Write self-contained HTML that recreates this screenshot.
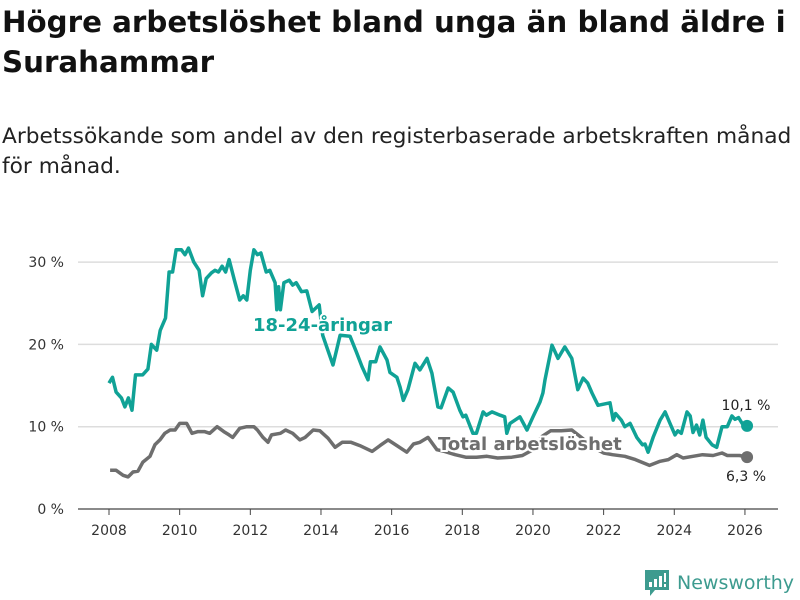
<!DOCTYPE html>
<html><head><meta charset="utf-8">
<style>
body{margin:0;background:#fff;width:800px;height:600px;overflow:hidden;font-family:"DejaVu Sans","Liberation Sans",sans-serif;}
h1{position:absolute;left:2px;top:2px;margin:0;font-size:29.3px;line-height:40px;font-weight:bold;color:#111;width:798px;}
p{position:absolute;left:2px;top:122px;margin:0;font-size:21.7px;line-height:30px;color:#222;white-space:nowrap;}
svg{position:absolute;left:0;top:0;}
</style></head><body>
<h1>Högre arbetslöshet bland unga än bland äldre i Surahammar</h1>
<p>Arbetssökande som andel av den registerbaserade arbetskraften månad<br>för månad.</p>
<svg id="chart" width="800" height="600"></svg>
<script>
const youthDates=[2008.0,2008.1,2008.2,2008.35,2008.45,2008.55,2008.65,2008.75,2008.95,2009.1,2009.2,2009.35,2009.45,2009.6,2009.7,2009.8,2009.9,2010.05,2010.15,2010.25,2010.4,2010.55,2010.65,2010.75,2010.9,2011.0,2011.1,2011.2,2011.3,2011.4,2011.55,2011.7,2011.8,2011.9,2012.0,2012.1,2012.2,2012.3,2012.45,2012.55,2012.7,2012.75,2012.8,2012.85,2012.95,2013.1,2013.2,2013.3,2013.45,2013.6,2013.75,2013.95,2014.05,2014.34,2014.54,2014.82,2015.0,2015.16,2015.33,2015.4,2015.55,2015.67,2015.87,2015.95,2016.15,2016.24,2016.33,2016.46,2016.66,2016.8,2017.0,2017.14,2017.31,2017.4,2017.6,2017.74,2017.93,2018.02,2018.1,2018.3,2018.4,2018.59,2018.68,2018.84,2019.07,2019.2,2019.26,2019.35,2019.63,2019.83,2020.0,2020.2,2020.28,2020.34,2020.54,2020.71,2020.9,2021.1,2021.27,2021.42,2021.55,2021.67,2021.84,2022.18,2022.27,2022.34,2022.5,2022.6,2022.75,2022.94,2023.1,2023.17,2023.26,2023.4,2023.6,2023.74,2023.88,2024.02,2024.1,2024.2,2024.36,2024.45,2024.53,2024.63,2024.72,2024.81,2024.9,2025.07,2025.2,2025.35,2025.5,2025.63,2025.72,2025.82,2025.92,2026.06];
const youthValues=[15.3,16,14.2,13.5,12.4,13.5,12,16.3,16.3,17,20,19.3,21.7,23.2,28.8,28.8,31.5,31.5,30.9,31.7,30,29,25.9,28,28.7,29,28.8,29.5,28.8,30.3,27.8,25.4,25.9,25.4,29,31.5,30.9,31.1,28.8,29,27.5,24.2,27,24.2,27.5,27.8,27.2,27.5,26.4,26.5,24,24.8,21.1,17.5,21.1,21,19.1,17.3,15.7,17.9,17.9,19.7,18.1,16.6,16,14.8,13.2,14.5,17.7,16.9,18.3,16.5,12.4,12.3,14.7,14.2,12,11.2,11.4,9.2,9.2,11.8,11.4,11.8,11.4,11.2,9.2,10.4,11.2,9.6,11.2,13,14.1,15.7,19.9,18.3,19.7,18.3,14.5,15.9,15.3,14.1,12.6,12.9,10.8,11.6,10.8,10,10.4,8.7,7.8,7.9,6.9,8.7,10.8,11.8,10.4,9,9.5,9.2,11.8,11.3,9.3,10.2,9,10.8,8.7,7.8,7.5,10,10,11.3,10.9,11.1,10.4,10.1];
const totalDates=[2008.03,2008.2,2008.4,2008.54,2008.68,2008.82,2008.96,2009.16,2009.3,2009.44,2009.58,2009.73,2009.87,2010.0,2010.2,2010.35,2010.52,2010.7,2010.85,2011.06,2011.25,2011.4,2011.5,2011.7,2011.9,2012.1,2012.2,2012.36,2012.5,2012.6,2012.85,2013.0,2013.2,2013.4,2013.55,2013.78,2013.97,2014.2,2014.4,2014.6,2014.85,2015.1,2015.45,2015.67,2015.9,2016.15,2016.43,2016.62,2016.8,2017.03,2017.28,2017.5,2017.8,2018.1,2018.4,2018.7,2019.0,2019.4,2019.7,2020.0,2020.25,2020.5,2020.8,2021.1,2021.4,2021.7,2022.0,2022.25,2022.6,2022.9,2023.3,2023.6,2023.83,2024.07,2024.25,2024.53,2024.8,2025.1,2025.35,2025.5,2025.85,2026.06];
const totalValues=[4.7,4.7,4.1,3.9,4.5,4.6,5.7,6.4,7.8,8.4,9.2,9.6,9.6,10.4,10.4,9.2,9.4,9.4,9.2,10,9.4,9,8.7,9.8,10,10,9.6,8.7,8.1,9,9.2,9.6,9.2,8.4,8.7,9.6,9.5,8.6,7.5,8.1,8.1,7.7,7,7.7,8.4,7.7,6.9,7.9,8.1,8.7,7.2,7,6.6,6.3,6.3,6.4,6.2,6.3,6.5,7.2,8.8,9.5,9.5,9.6,8.6,7.5,6.8,6.6,6.4,6,5.3,5.8,6,6.6,6.2,6.4,6.6,6.5,6.8,6.5,6.5,6.3];
const yTicks=[0,10,20,30];
const yTickLabels=["0 %","10 %","20 %","30 %"];
const xTicks=[2008,2010,2012,2014,2016,2018,2020,2022,2024,2026];

const svg=document.getElementById('chart');
const NS='http://www.w3.org/2000/svg';
const X=v=>109+(v-2008)*35.33;
const Y=v=>509-v*8.23;
function mk(tag,attrs,parent){const e=document.createElementNS(NS,tag);for(const k in attrs)e.setAttribute(k,attrs[k]);(parent||svg).appendChild(e);return e;}

yTicks.forEach((t,i)=>{
  const g=mk('line',{x1:78,x2:778,y1:Y(t),y2:Y(t),stroke:t===0?'#444':'#ddd','stroke-width':t===0?1.2:1.5});
  
  
  const l=mk('text',{x:64,y:Y(t)+5,'text-anchor':'end','font-size':14,fill:'#333'});
  l.textContent=yTickLabels[i];
  
  
});
xTicks.forEach(t=>{
  const tk=mk('line',{x1:X(t),x2:X(t),y1:509,y2:515,stroke:'#444','stroke-width':1});
  
  
  const l=mk('text',{x:X(t),y:535,'text-anchor':'middle','font-size':14,fill:'#333'});
  l.textContent=t;
  
  
});
function path(d,v){return d.map((x,i)=>(i?'L':'M')+X(x).toFixed(1)+','+Y(v[i]).toFixed(1)).join('');}
const tl=mk('path',{d:path(totalDates,totalValues),fill:'none',stroke:'#6e6e6e','stroke-width':3.5,'stroke-linejoin':'round'});


const yl=mk('path',{d:path(youthDates,youthValues),fill:'none',stroke:'#10a296','stroke-width':3.5,'stroke-linejoin':'round'});


const td=mk('circle',{cx:X(totalDates[totalDates.length-1]),cy:Y(totalValues[totalValues.length-1]),r:6,fill:'#6e6e6e'});


const yd=mk('circle',{cx:X(youthDates[youthDates.length-1]),cy:Y(youthValues[youthValues.length-1]),r:6,fill:'#10a296'});


const lab=(txt,x,y,col,size,w,name,anchor)=>{const t=mk('text',{x,y,'font-size':size,'font-weight':w,fill:col,stroke:'#fff','stroke-width':4,'paint-order':'stroke','text-anchor':anchor||'start'});t.textContent=txt;return t;};
lab('18-24-åringar',253,331,'#10a296',18,'bold','youth-series-label');
lab('Total arbetslöshet',438,450,'#6e6e6e',18,'bold','total-series-label');
lab('10,1 %',746,410,'#222',14,'normal','youth-end-value','middle');
lab('6,3 %',746,481,'#222',14,'normal','total-end-value','middle');
</script>
<div style="position:absolute;left:645px;top:569px;height:28px;display:flex;align-items:center;">
<svg width="24" height="26" viewBox="0 0 24 26" style="position:static"><path d="M0 0H24V20H10L5 26V20H0Z" fill="#3d9b8f"/><rect x="4" y="12" width="3" height="5" fill="#fff"/><rect x="9" y="9" width="3" height="8" fill="#fff"/><rect x="14" y="6" width="3" height="11" fill="#fff"/><rect x="19" y="3" width="2" height="9" fill="#fff"/><rect x="19" y="14" width="2" height="3" fill="#fff"/></svg>
<span style="margin-left:8px;font-size:19px;color:#3d9b8f;">Newsworthy</span>
</div>
</body></html>
